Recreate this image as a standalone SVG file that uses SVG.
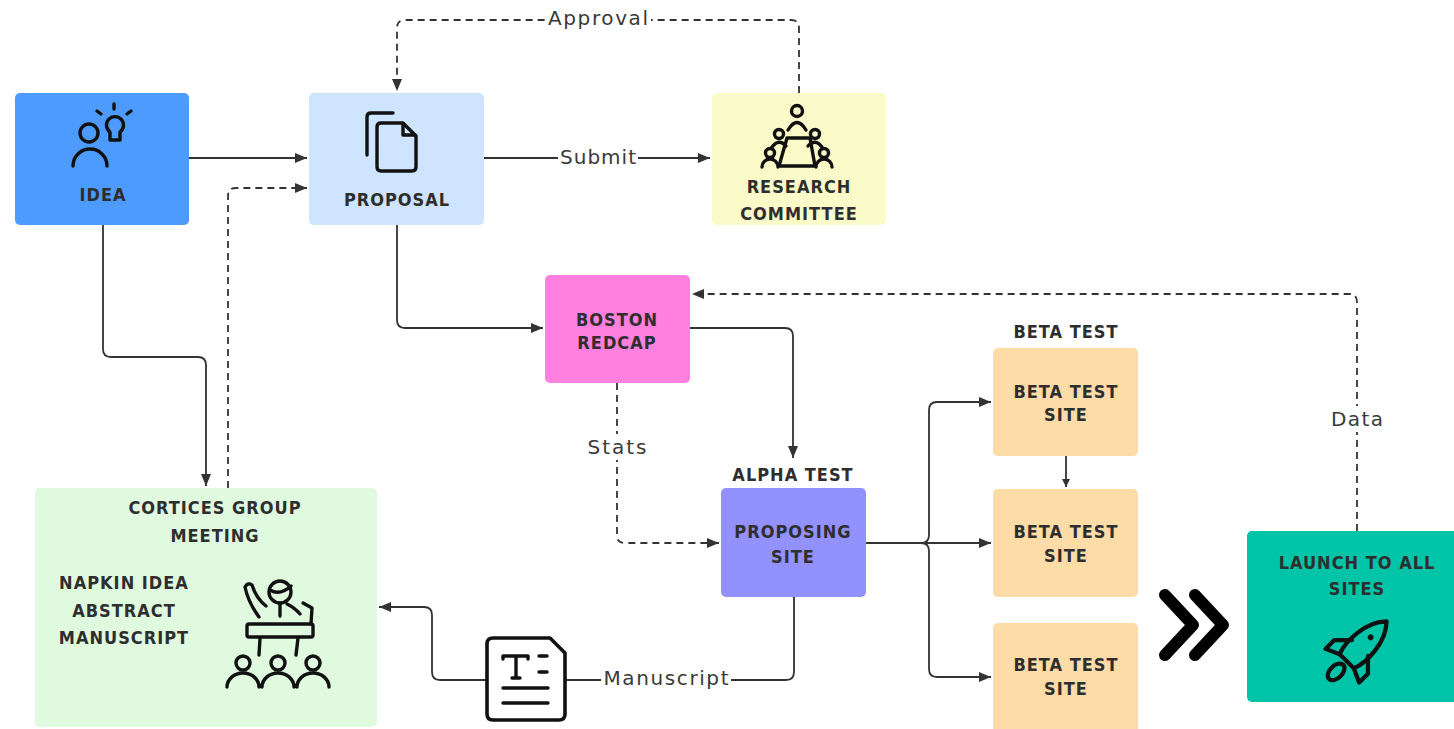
<svg xmlns="http://www.w3.org/2000/svg" width="1454" height="729" viewBox="0 0 1454 729">
  <defs>
    <marker id="arr" markerUnits="userSpaceOnUse" markerWidth="13" markerHeight="11" refX="12" refY="5" orient="auto">
      <path d="M0,0 L12,5 L0,10 Z" fill="#333"/>
    </marker>
    <marker id="arr-sm" markerUnits="userSpaceOnUse" markerWidth="9" markerHeight="9" refX="8" refY="4" orient="auto">
      <path d="M0,0 L8,4 L0,8 Z" fill="#333"/>
    </marker>
    <style>
      .box { stroke: none; }
      .t { font-family: "DejaVu Sans Condensed", "DejaVu Sans", sans-serif; font-weight: bold; font-size: 18px; letter-spacing: 1px; text-anchor: middle; fill: #2e2e2e; }
      .lbl { font-family: "DejaVu Sans", "Liberation Sans", sans-serif; font-size: 20px; text-anchor: middle; fill: #3a3a3a; }
      .ln { fill: none; stroke: #333; stroke-width: 1.8; }
      .dash { stroke-dasharray: 7 5; }
      .ic { fill: none; stroke: #111; stroke-width: 3.4; stroke-linecap: round; stroke-linejoin: round; }
      .lblbg { fill: #fff; }
    </style>
  </defs>

  <rect width="1454" height="729" fill="#fff"/>

  <!-- connectors -->
  <g id="connectors">
    <path class="ln" d="M189,158 H307" marker-end="url(#arr)"/>
    <path class="ln" d="M484,158 H710" marker-end="url(#arr)"/>
    <path class="ln dash" d="M799,93 V28 Q799,20 791,20 H405 Q397,20 397,28 V91" marker-end="url(#arr)"/>
    <path class="ln" d="M103,225 V349 Q103,357 111,357 H198 Q206,357 206,365 V486" marker-end="url(#arr)"/>
    <path class="ln dash" d="M228,488 V196 Q228,188 236,188 H307" marker-end="url(#arr)"/>
    <path class="ln" d="M397,225 V320 Q397,328 405,328 H543" marker-end="url(#arr)"/>
    <path class="ln" d="M690,328 H785 Q793,328 793,336 V458" marker-end="url(#arr)"/>
    <path class="ln dash" d="M617,383 V535 Q617,543 625,543 H719" marker-end="url(#arr)"/>
    <path class="ln" d="M866,543 H921 Q929,543 929,535 V410 Q929,402 937,402 H991" marker-end="url(#arr)"/>
    <path class="ln" d="M921,543 H991" marker-end="url(#arr)"/>
    <path class="ln" d="M921,543 Q929,543 929,551 V669 Q929,677 937,677 H991" marker-end="url(#arr)"/>
    <path class="ln" d="M1066,456 V487" marker-end="url(#arr-sm)"/>
    <path class="ln dash" d="M1357,531 V302 Q1357,294 1349,294 H692" marker-end="url(#arr)"/>
    <path class="ln" d="M794,597 V672 Q794,680 786,680 H566"/>
    <path class="ln" d="M487,680 H440 Q432,680 432,672 V615 Q432,607 424,607 H379" marker-end="url(#arr)"/>

    <!-- connector labels -->
    <rect class="lblbg" x="545" y="6" width="106" height="26"/>
    <text class="lbl" x="598" y="25" textLength="100" lengthAdjust="spacing">Approval</text>
    <rect class="lblbg" x="558" y="145" width="80" height="26"/>
    <text class="lbl" x="598" y="164" textLength="76" lengthAdjust="spacing">Submit</text>
    <rect class="lblbg" x="585" y="434" width="64" height="26"/>
    <text class="lbl" x="617" y="454" textLength="59" lengthAdjust="spacing">Stats</text>
    <rect class="lblbg" x="1329" y="406" width="56" height="26"/>
    <text class="lbl" x="1357" y="426" textLength="52" lengthAdjust="spacing">Data</text>
    <rect class="lblbg" x="601" y="666" width="130" height="26"/>
    <text class="lbl" x="666" y="685" textLength="125" lengthAdjust="spacing">Manuscript</text>
  </g>

  <!-- Idea -->
  <g id="idea">
    <rect class="box" x="15" y="93" width="174" height="132" rx="5" fill="#4d9bff"/>
    <circle class="ic" cx="89" cy="133" r="9"/>
    <path class="ic" d="M73,166 A17,17 0 0 1 107,166"/>
    <path class="ic" d="M110,140 V132 A8.5,8.5 0 1 1 120,132 V140 Z"/>
    <path class="ic" d="M97,111 L101,114 M114,104 V109 M131,111 L127,114"/>
    <text class="t" x="103" y="201">IDEA</text>
  </g>

  <!-- Proposal -->
  <g id="proposal">
    <rect class="box" x="309" y="93" width="175" height="132" rx="5" fill="#cfe4ff"/>
    <path class="ic" d="M367,155 V117 Q367,113 371,113 H393"/>
    <path class="ic" d="M381,123 H403 L416,136 V167 Q416,171 412,171 H381 Q377,171 377,167 V127 Q377,123 381,123 Z"/>
    <path class="ic" d="M403,124 V135 H415"/>
    <text class="t" x="397" y="206">PROPOSAL</text>
  </g>

  <!-- Research committee -->
  <g id="research-committee">
    <rect class="box" x="712" y="93" width="174" height="132" rx="5" fill="#fbfac9"/>
    <path class="ic" d="M787,138 H810 L815,166 H779 Z" stroke-width="3"/>
    <circle class="ic" cx="797" cy="111" r="5.5" stroke-width="3"/>
    <path class="ic" d="M788,130 Q797,115 806,130" stroke-width="3"/>
    <circle class="ic" cx="779" cy="134" r="4.5" stroke-width="3"/>
    <circle class="ic" cx="815" cy="134" r="4.5" stroke-width="3"/>
    <path class="ic" d="M772,147 Q779,138 786,146 M808,146 Q815,138 822,147" stroke-width="3"/>
    <circle class="ic" cx="770" cy="153" r="4.5" stroke-width="3"/>
    <circle class="ic" cx="824" cy="153" r="4.5" stroke-width="3"/>
    <path class="ic" d="M762,167 A8,8 0 0 1 778,167 M816,167 A8,8 0 0 1 832,167" stroke-width="3"/>
    <text class="t" x="799" y="193">RESEARCH</text>
    <text class="t" x="799" y="220">COMMITTEE</text>
  </g>

  <!-- Boston REDCap -->
  <g id="boston-redcap">
    <rect class="box" x="545" y="275" width="145" height="108" rx="5" fill="#ff80df"/>
    <text class="t" x="617" y="326">BOSTON</text>
    <text class="t" x="617" y="349">REDCAP</text>
  </g>

  <!-- Cortices group meeting -->
  <g id="group-meeting">
    <rect class="box" x="35" y="488" width="342" height="239" rx="5" fill="#e0fae0"/>
    <text class="t" x="215" y="514">CORTICES GROUP</text>
    <text class="t" x="215" y="542">MEETING</text>
    <text class="t" x="124" y="589">NAPKIN IDEA</text>
    <text class="t" x="124" y="617">ABSTRACT</text>
    <text class="t" x="124" y="644">MANUSCRIPT</text>
    <circle class="ic" cx="280" cy="592" r="11" stroke-width="3.2"/>
    <path class="ic" d="M270,590 Q280,596 291,586" stroke-width="3"/>
    <path class="ic" d="M259,617 Q248,602 245,587 Q248,582 252,585 Q256,598 266,606" stroke-width="3"/>
    <path class="ic" d="M280,603 V616 M287,604 Q295,608 300,614 M303,603 L312,608 L311,624" stroke-width="3"/>
    <rect class="ic" x="247" y="624" width="66" height="13" rx="2" stroke-width="3.2"/>
    <path class="ic" d="M260,638 L259,655 M298,638 L296,655" stroke-width="3"/>
    <circle class="ic" cx="243" cy="663" r="7" stroke-width="3.2"/>
    <circle class="ic" cx="278" cy="663" r="7" stroke-width="3.2"/>
    <circle class="ic" cx="313" cy="663" r="7" stroke-width="3.2"/>
    <path class="ic" d="M227,687 A16,14 0 0 1 259,687 M262,687 A16,14 0 0 1 294,687 M297,687 A16,14 0 0 1 329,687" stroke-width="3.2"/>
  </g>

  <!-- Manuscript document -->
  <g id="manuscript-doc">
    <path d="M493,638 H550 L565,653 V714 Q565,720 559,720 H493 Q487,720 487,714 V644 Q487,638 493,638 Z" fill="#fff" stroke="#111" stroke-width="3.6" stroke-linejoin="round"/>
    <path class="ic" d="M503,656 H528 M503,656 V659 M528,656 V659 M516,657 V678 M512,678 H520" stroke-width="4"/>
    <path class="ic" d="M539,656 H547 M539,672 H547" stroke-width="4"/>
    <path class="ic" d="M503,688 H548 M503,703 H548" stroke-width="3.6"/>
  </g>

  <!-- Alpha test: proposing site -->
  <g id="proposing-site">
    <text class="t" x="793" y="481" fill="#111">ALPHA TEST</text>
    <rect class="box" x="721" y="488" width="145" height="109" rx="5" fill="#9391fe"/>
    <text class="t" x="793" y="538" fill="#111">PROPOSING</text>
    <text class="t" x="793" y="563" fill="#111">SITE</text>
  </g>

  <!-- Beta test sites -->
  <g id="beta-site-1">
    <text class="t" x="1066" y="338" fill="#111">BETA TEST</text>
    <rect class="box" x="993" y="348" width="145" height="108" rx="5" fill="#fedca8"/>
    <text class="t" x="1066" y="398" fill="#111">BETA TEST</text>
    <text class="t" x="1066" y="421" fill="#111">SITE</text>
  </g>
  <g id="beta-site-2">
    <rect class="box" x="993" y="489" width="145" height="108" rx="5" fill="#fedca8"/>
    <text class="t" x="1066" y="538" fill="#111">BETA TEST</text>
    <text class="t" x="1066" y="562" fill="#111">SITE</text>
  </g>
  <g id="beta-site-3">
    <rect class="box" x="993" y="623" width="145" height="112" rx="5" fill="#fedca8"/>
    <text class="t" x="1066" y="671" fill="#111">BETA TEST</text>
    <text class="t" x="1066" y="695" fill="#111">SITE</text>
  </g>

  <!-- Double chevron -->
  <g id="chevrons">
    <path d="M1165,595 L1193,625 L1165,655 M1195,595 L1223,625 L1195,655" fill="none" stroke="#000" stroke-width="12" stroke-linecap="round" stroke-linejoin="round"/>
  </g>

  <!-- Launch to all sites -->
  <g id="launch">
    <rect class="box" x="1247" y="531" width="215" height="171" rx="5" fill="#00c4a8"/>
    <text class="t" x="1357" y="569" fill="#000">LAUNCH TO ALL</text>
    <text class="t" x="1357" y="595" fill="#000">SITES</text>
    <g transform="translate(1360,648) rotate(45) scale(1.25)">
      <path class="ic" d="M0,-30 C12,-18 12,5 8,15 L-8,15 C-12,5 -12,-18 0,-30 Z" stroke-width="2.6"/>
      <path class="ic" d="M-9,0 L-19,10 L-19,20 L-8,15 M9,0 L19,10 L19,20 L8,15" stroke-width="2.6"/>
      <circle cx="0" cy="-12" r="2.3" fill="#111"/>
      <ellipse class="ic" cx="0" cy="27" rx="5" ry="8" stroke-width="2.6"/>
    </g>
  </g>
</svg>
